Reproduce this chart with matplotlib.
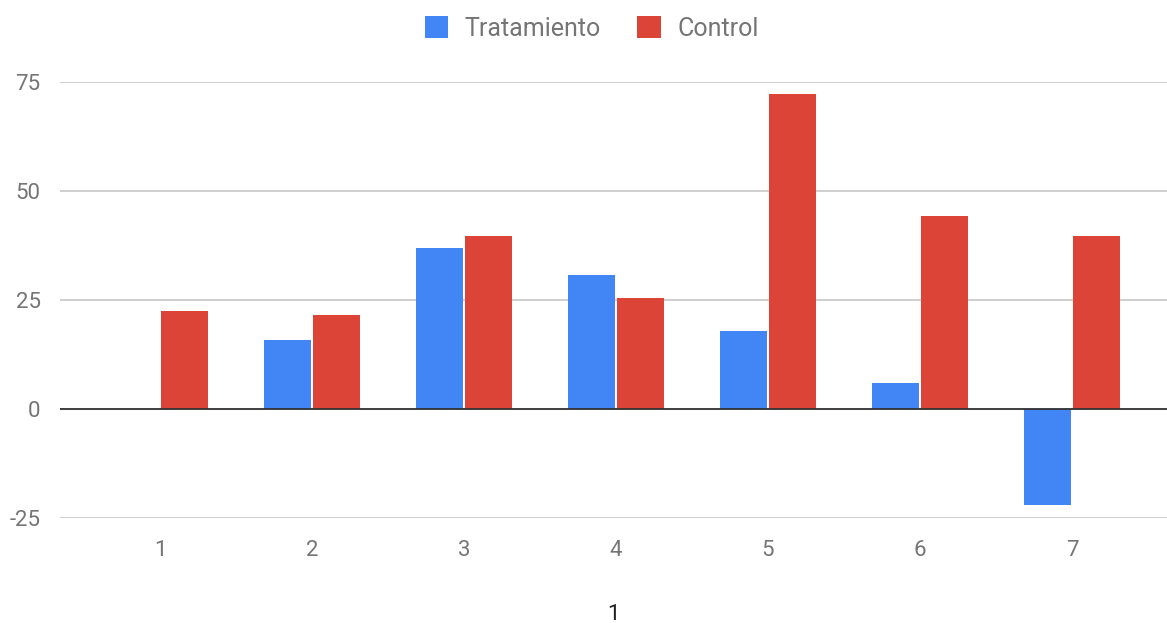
import matplotlib
matplotlib.use("Agg")
import matplotlib.pyplot as plt
import numpy as np

categories = ["1", "2", "3", "4", "5", "6", "7"]
tratamiento = [0, 15.8, 36.9, 30.7, 17.9, 6.0, -22.0]
control = [22.5, 21.6, 39.7, 25.5, 72.2, 44.3, 39.7]
yticks = [-25, 0, 25, 50, 75]
series_names = ["Tratamiento", "Control"]
colors = ["#4285F4", "#DB4437"]
xlabel = "1"

plt.rcParams['font.family'] = ['Roboto', 'DejaVu Sans']
plt.rcParams['axes.unicode_minus'] = False
W, H = 1167, 623
fig = plt.figure(figsize=(W / 100, H / 100), dpi=100)
ax = fig.add_axes([60 / W, (H - 518) / H, (W - 60) / W, (518 - 82) / H])

x = np.arange(len(categories))
bw = 0.31
off = 0.163
ax.bar(x - off, tratamiento, bw, color=colors[0], label=series_names[0], zorder=3)
ax.bar(x + off, control, bw, color=colors[1], label=series_names[1], zorder=3)

ax.set_xlim(-0.658, 6.625)
ax.set_ylim(-25, 75)
ax.set_yticks(yticks)
ax.set_xticks(x)
ax.set_xticklabels(categories)
ax.grid(axis='y', color='#cccccc', linewidth=1.3, zorder=0)
ax.axhline(0, color='#333333', linewidth=1.3, zorder=4)
for s in ax.spines.values():
    s.set_visible(False)
ax.tick_params(axis='both', length=0, labelsize=16, colors='#757575')
ax.tick_params(axis='x', pad=16)
ax.tick_params(axis='y', pad=14)
ax.set_xlabel(xlabel, fontsize=16, color='#222222', labelpad=31)

leg = fig.legend(loc='upper center', bbox_to_anchor=(0.507, 1.01), ncol=2, frameon=False,
                 fontsize=18, handlelength=0.95, handleheight=0.95, columnspacing=1.45,
                 handletextpad=0.65)
for t in leg.get_texts():
    t.set_color('#757575')

fig.savefig("out.png", dpi=100)
